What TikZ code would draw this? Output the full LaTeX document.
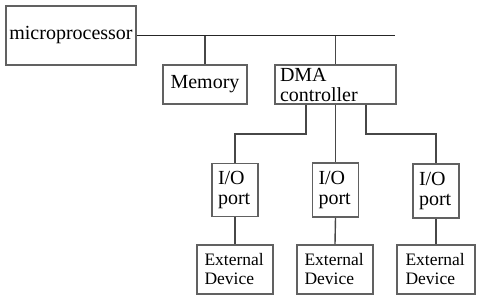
\documentclass[tikz,border=0pt]{standalone}
\usepackage{fontspec}
\begin{document}
\begin{tikzpicture}[x=1pt,y=-1pt,
  box/.style={draw=black!62,line width=1.6pt,fill=white,inner sep=0pt,font=\fontspec{Liberation Serif}\fontsize{20}{20}\selectfont},
  dev/.style={box,font=\fontspec{Liberation Serif}\fontsize{17.5}{19}\selectfont,align=left},
  wire/.style={draw=black!72,line width=1.4pt}]
\useasboundingbox (0,0) rectangle (480,300);
\node[box,minimum width=130pt,minimum height=59pt] (mp) at (71,35.5) {microprocessor};
\node[box,minimum width=84pt,minimum height=39pt] (mem) at (205,84.5) {Memory};
\node[box,minimum width=121pt,minimum height=39pt,text width=111pt,align=left] (dma) at (335.5,84.5) {DMA\\controller};
\node[box,minimum width=46pt,minimum height=53pt,text width=34pt,align=left] (io1) at (235,190) {I/O\\port};
\node[box,minimum width=46pt,minimum height=54pt,text width=34pt,align=left] (io2) at (335.5,190) {I/O\\port};
\node[box,minimum width=46pt,minimum height=54pt,text width=34pt,align=left] (io3) at (436,191) {I/O\\port};
\node[dev,minimum width=76pt,minimum height=49pt,text width=61pt] (ed1) at (235,269.5) {External\\Device};
\node[dev,minimum width=76pt,minimum height=49pt,text width=61pt] (ed2) at (335,269.5) {External\\Device};
\node[dev,minimum width=78pt,minimum height=49pt,text width=61pt] (ed3) at (436,269.5) {External\\Device};
\coordinate (busend) at (395,35.5);
\draw[wire,draw=black!85,line width=1.3pt] (mp.east) -- (busend);
\draw[wire] (mem.north) -- (mem.north |- busend);
\draw[wire] (dma.north) -- (dma.north |- busend);
\draw[wire] ([xshift=-29.5pt]dma.south) -- ++(0,29) -| (io1.north);
\draw[wire] (dma.south) -- (io2.north);
\draw[wire] ([xshift=30.5pt]dma.south) -- ++(0,29) -| (io3.north);
\draw[wire] (io1.south) -- (ed1.north);
\draw[wire] (io2.south) -- (ed2.north);
\draw[wire] (io3.south) -- (ed3.north);
\end{tikzpicture}
\end{document}
